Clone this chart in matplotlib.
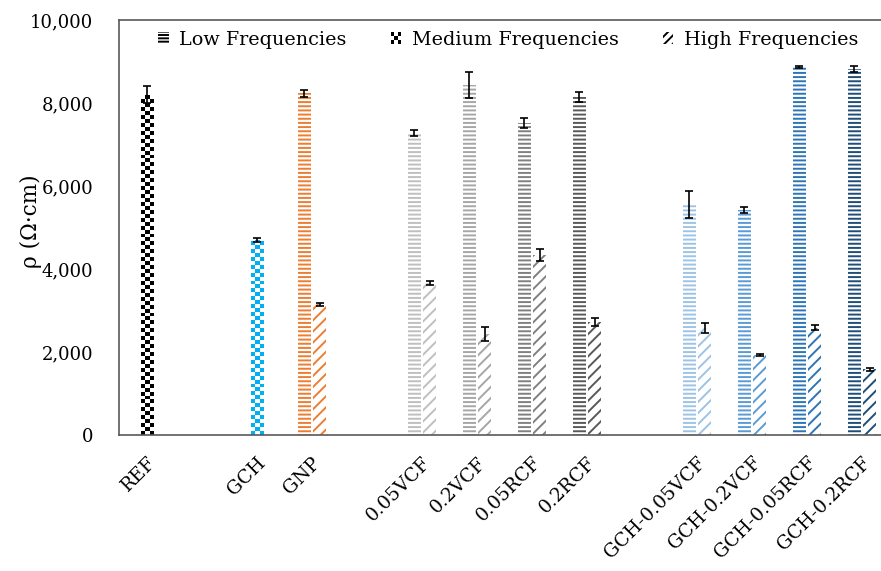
import numpy as np
import matplotlib
matplotlib.use('Agg')
import matplotlib.pyplot as plt
import matplotlib.transforms as mtransforms
from matplotlib.patches import Patch, Rectangle
from matplotlib.legend_handler import HandlerBase

nan = np.nan

labels = ['REF', '', 'GCH', 'GNP', '', '0.05VCF', '0.2VCF', '0.05RCF', '0.2RCF',
          '', 'GCH-0.05VCF', 'GCH-0.2VCF', 'GCH-0.05RCF', 'GCH-0.2RCF']

low = [nan, nan, nan, 8230, nan, 7270, 8440, 7520, 8140, nan, 5550, 5420, 8860, 8820]
low_err = [0, 0, 0, 90, 0, 70, 310, 120, 115, 0, 330, 70, 20, 70]

medium = [8200, nan, 4700, nan, nan, nan, nan, nan, nan, nan, nan, nan, nan, nan]
medium_err = [200, 0, 40, 0, 0, 0, 0, 0, 0, 0, 0, 0, 0, 0]

high = [nan, nan, nan, 3150, nan, 3660, 2440, 4340, 2720, nan, 2570, 1930, 2590, 1580]
high_err = [0, 0, 0, 40, 0, 50, 170, 140, 90, 0, 120, 25, 50, 35]

colors = ['#000000', '#ffffff', '#00B0F0', '#ED7D31', '#ffffff', '#BFBFBF', '#A6A6A6',
          '#808080', '#595959', '#ffffff', '#9DC3E6', '#5B9BD5', '#2E75B6', '#1F4E79']

plt.rcParams.update({
    "font.family": "DejaVu Serif",
    "font.size": 12,
    "hatch.linewidth": 1.4,
})

fig = plt.figure(figsize=(8.81, 5.71), dpi=100)
ax = fig.add_axes([0.1356, 0.2382, 0.874, 0.7268])

x = np.arange(len(labels))
bw = 0.23
off = 0.14


def draw(vals, errs, shift, hatch):
    vals = np.array(vals, dtype=float)
    m = ~np.isnan(vals)
    xs = x[m] + shift
    cs = [colors[i] for i in np.where(m)[0]]
    bars = ax.bar(xs, vals[m], bw, facecolor='white', edgecolor=cs, hatch=hatch, linewidth=0)
    ax.errorbar(xs, vals[m], yerr=np.array(errs)[m], fmt='none', ecolor='black',
                elinewidth=1.2, capsize=3, capthick=1.2)
    return bars


draw(low, low_err, -off, '----')
draw(high, high_err, off, '///')

# medium bars: checkerboard texture clipped to each bar
ax.set_xlim(-0.5, 13.5)
ax.set_ylim(0, 10000)
med = np.array(medium, dtype=float)
mm = ~np.isnan(med)
mbars = ax.bar(x[mm], med[mm], bw, facecolor='white', linewidth=0)
ax.errorbar(x[mm], med[mm], yerr=np.array(medium_err)[mm], fmt='none', ecolor='black',
            elinewidth=1.2, capsize=3, capthick=1.2, zorder=5)
for b, i in zip(mbars, np.where(mm)[0]):
    ncol = 3
    cell = 95
    nrow = int(np.ceil(b.get_height() / cell))
    pat = (np.add.outer(np.arange(nrow), np.arange(ncol)) % 2).astype(float)
    rgb = np.array(matplotlib.colors.to_rgb(colors[i]))
    img = np.ones((nrow, ncol, 3))
    img[pat == 0] = rgb
    im = ax.imshow(img, extent=(b.get_x(), b.get_x() + b.get_width(), 0, nrow * cell),
                   origin='lower', interpolation='nearest', aspect='auto', zorder=2)
    im.set_clip_path(b)
ax.set_xlim(-0.5, 13.5)
ax.set_ylim(0, 10000)

ax.set_xticks(x)
ax.set_xticklabels(labels, rotation=45, ha='right', va='center', rotation_mode='anchor',
                   fontsize=13.5)
ax.tick_params(axis='x', length=0, pad=18)
shift = mtransforms.ScaledTranslation(6 / 100, 0, fig.dpi_scale_trans)
for lab in ax.get_xticklabels():
    lab.set_transform(lab.get_transform() + shift)
ax.tick_params(axis='y', length=0, pad=19, labelsize=13)
ax.set_yticks(np.arange(0, 10001, 2000))
ax.set_yticklabels([f'{v:,}' for v in range(0, 10001, 2000)])
ax.set_ylabel('ρ (Ω·cm)', fontsize=15.5)
ax.yaxis.set_label_coords(-0.1, 0.515)

for s in ['left', 'bottom', 'top']:
    ax.spines[s].set_color('#595959')
    ax.spines[s].set_linewidth(1.2)
ax.spines['right'].set_visible(False)


class CheckerHandler(HandlerBase):
    def create_artists(self, legend, orig_handle, xdescent, ydescent, width, height,
                       fontsize, trans):
        n = 3
        w, h = width / n, height / n
        arts = []
        for i in range(n):
            for j in range(n):
                c = 'black' if (i + j) % 2 == 0 else 'white'
                arts.append(Rectangle((-xdescent + i * w, -ydescent + j * h), w, h,
                                      facecolor=c, edgecolor='none', transform=trans))
        return arts


h_low = Patch(facecolor='white', edgecolor='black', hatch='-----', linewidth=0)
h_med = Patch(facecolor='black')
h_high = Patch(facecolor='white', edgecolor='black', hatch='////', linewidth=0)
ax.legend([h_low, h_med, h_high], ['Low Frequencies', 'Medium Frequencies', 'High Frequencies'],
          handler_map={h_med: CheckerHandler()}, loc='center', bbox_to_anchor=(0.505, 0.952),
          ncol=3, frameon=False, fontsize=13.8, handlelength=0.55, handleheight=0.55,
          handletextpad=0.55, columnspacing=2.3)

fig.savefig('out.png', dpi=100)
